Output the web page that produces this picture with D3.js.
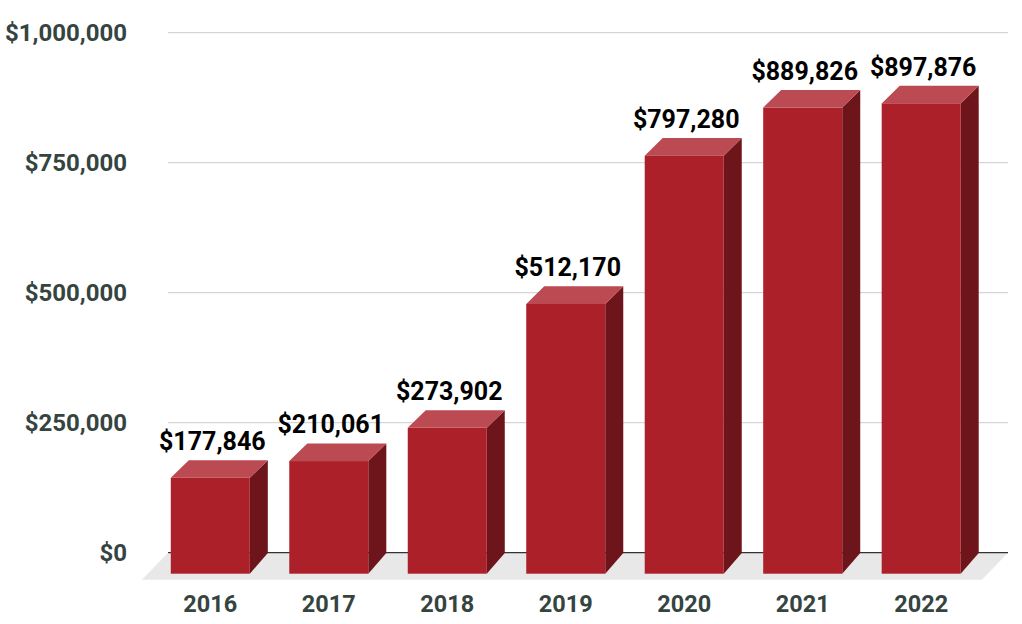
<!DOCTYPE html>
<html>
<head>
<meta charset="utf-8">
<script src="https://cdn.jsdelivr.net/npm/d3@7"></script>
<style>
  body { margin: 0; background: #fff; }
  svg text { font-family: Roboto, "Noto Sans", sans-serif; font-weight: 700; }
</style>
</head>
<body>
<script>
"use strict";

const years = ["2016", "2017", "2018", "2019", "2020", "2021", "2022"];
const totals = [177846, 210061, 273902, 512170, 797280, 889826, 897876];
const yTicks = [0, 250000, 500000, 750000, 1000000];

(function() {

const width = 1022;
const height = 624;

// depth of the fake 3d boxes
const dx = 18, dy = 17.6;

let svg = d3.select("body").append("svg")
    .attr("width", width)
    .attr("height", height);

let x = d3.scaleBand()
    .domain(years)
    .range([169, 998.5])
    .paddingInner(0.333)
    .paddingOuter(0.167);

let y = d3.scaleLinear()
    .domain([0, 1000000])
    .range([552.7, 32.7]);

let money = d3.format("$,");

// gridlines
svg.selectAll("line.grid")
    .data(yTicks.slice(1))
    .enter()
    .append("line")
    .attr("class", "grid")
    .attr("x1", 168).attr("x2", 1008)
    .attr("y1", d => y(d)).attr("y2", d => y(d))
    .style("stroke", "#cccccc")
    .style("stroke-width", 1);

// floor
let y0 = y(0);
svg.append("polygon")
    .attr("points", [[168, y0], [1008, y0], [1008 - 26, y0 + 27], [168 - 26, y0 + 27]].join(" "))
    .style("fill", "#e8e8e8");

svg.append("line")
    .attr("x1", 168).attr("x2", 1008)
    .attr("y1", y0).attr("y2", y0)
    .style("stroke", "#333")
    .style("stroke-width", 1.2);

// y labels
svg.selectAll("text.ylab")
    .data(yTicks)
    .enter()
    .append("text")
    .attr("class", "ylab")
    .attr("x", 127)
    .attr("y", d => y(d))
    .attr("dy", "0.36em")
    .attr("text-anchor", "end")
    .style("font-size", "24px")
    .style("fill", "#35443f")
    .text(d => money(d));

let bars = svg.selectAll("g.bar")
    .data(years.map((yr, i) => ({ yr: yr, v: totals[i] })))
    .enter()
    .append("g")
    .attr("class", "bar");

// front face coordinates
function fx0(d) { return x(d.yr) - dx; }
function fx1(d) { return x(d.yr) + x.bandwidth() - dx; }
function ftop(d) { return y(d.v) + dy; }
let fbot = y0 + 21;

bars.append("polygon")
    .attr("points", d => [[fx1(d), ftop(d)], [fx1(d) + dx, ftop(d) - dy],
        [fx1(d) + dx, fbot - dy - 3], [fx1(d), fbot]].join(" "))
    .style("fill", "#6e151b");

bars.append("polygon")
    .attr("points", d => [[fx0(d), ftop(d)], [fx0(d) + dx, ftop(d) - dy],
        [fx1(d) + dx, ftop(d) - dy], [fx1(d), ftop(d)]].join(" "))
    .style("fill", "#bb4a52");

bars.append("rect")
    .attr("x", fx0)
    .attr("y", ftop)
    .attr("width", x.bandwidth())
    .attr("height", d => fbot - ftop(d))
    .style("fill", "#ab2029");

bars.append("text")
    .attr("x", d => fx0(d) + x.bandwidth() / 2 + 2)
    .attr("y", d => y(d.v) - 10)
    .attr("text-anchor", "middle")
    .style("font-size", "25px")
    .style("fill", "#000")
    .text(d => money(d.v));

// x labels
svg.selectAll("text.xlab")
    .data(years)
    .enter()
    .append("text")
    .attr("class", "xlab")
    .attr("x", d => x(d) + x.bandwidth() / 2 - dx)
    .attr("y", 612)
    .attr("text-anchor", "middle")
    .style("font-size", "23.5px")
    .style("fill", "#35443f")
    .text(d => d);

})();
</script>
</body>
</html>
